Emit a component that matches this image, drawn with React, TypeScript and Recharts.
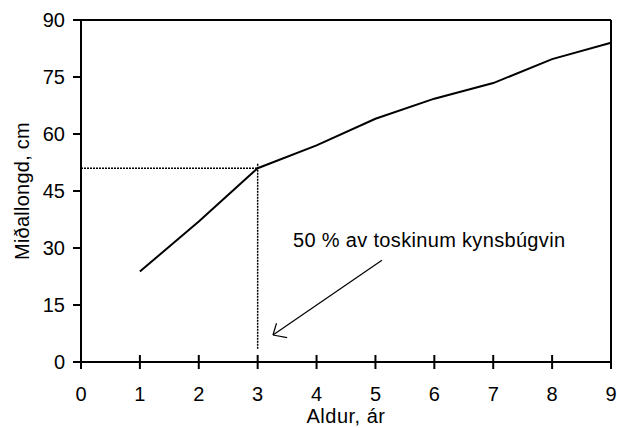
import React from "react";
import {
  LineChart,
  Line,
  XAxis,
  YAxis,
  ReferenceLine,
  ReferenceDot,
  Label,
} from "recharts";

const ages = [1, 2, 3, 4, 5, 6, 7, 8, 9];
const lengths = [23.8, 37, 51, 57, 64, 69.3, 73.4, 79.7, 84];
const xTicks = [0, 1, 2, 3, 4, 5, 6, 7, 8, 9];
const yTicks = [0, 15, 30, 45, 60, 75, 90];

const maturityAge = 3;
const maturityLength = 51;
const verticalTop = 52.2;
const verticalBottom = 3.2;

const arrowStart = { x: 5.11, y: 26.8 };
const arrowTip = { x: 3.26, y: 7.1 };
const arrowArm1 = { x: 3.32, y: 10.2 };
const arrowArm2 = { x: 3.5, y: 6.4 };

const annotationPos = { x: 3.6, y: 32.1 };
const annotationText = "50 % av toskinum kynsbúgvin";
const xLabel = "Aldur, ár";
const yLabel = "Miðallongd, cm";

const data = ages.map((a, i) => ({ age: a, len: lengths[i] }));

const FONT = "'Liberation Sans', Arial, sans-serif";

const XTick = (props: any) => {
  const { x, y, payload } = props;
  return (
    <g>
      <line x1={x} x2={x} y1={y - 7} y2={y + 7} stroke="#000" strokeWidth={2} />
      <text
        x={x}
        y={y + 39}
        textAnchor="middle"
        fill="#000"
        fontSize={20}
        fontFamily={FONT}
      >
        {payload.value}
      </text>
    </g>
  );
};

export default function App() {
  return (
    <div style={{ position: "absolute", left: 0, top: 0, background: "#fff" }}>
      <LineChart
        width={617}
        height={428}
        data={data}
        margin={{ top: 20, right: 6, left: 0, bottom: 0 }}
      >
        <XAxis
          dataKey="age"
          type="number"
          domain={[0, 9]}
          ticks={xTicks}
          tickSize={0}
          tickMargin={0}
          tickLine={false}
          height={66}
          axisLine={{ stroke: "#000", strokeWidth: 2 }}
          tick={<XTick />}
          interval={0}
        >
          <Label
            content={(p: any) => {
              const vb = p.viewBox;
              return (
                <text
                  x={vb.x + vb.width / 2}
                  y={423}
                  textAnchor="middle"
                  fill="#000"
                  fontSize={20}
                  letterSpacing={0.5}
                  fontFamily={FONT}
                >
                  {xLabel}
                </text>
              );
            }}
          />
        </XAxis>
        <YAxis
          type="number"
          domain={[0, 90]}
          ticks={yTicks}
          width={81}
          tickSize={8}
          tickMargin={8}
          interval={0}
          axisLine={{ stroke: "#000", strokeWidth: 2 }}
          tickLine={{ stroke: "#000", strokeWidth: 2 }}
          tick={{ fill: "#000", fontSize: 20, fontFamily: FONT }}
        >
          <Label
            content={(p: any) => {
              const vb = p.viewBox;
              const cy = vb.y + vb.height / 2;
              return (
                <text
                  x={22}
                  y={cy}
                  transform={`rotate(-90, 22, ${cy})`}
                  textAnchor="middle"
                  dominantBaseline="central"
                  fill="#000"
                  fontSize={20}
                  letterSpacing={0.25}
                  fontFamily={FONT}
                >
                  {yLabel}
                </text>
              );
            }}
          />
        </YAxis>
        <ReferenceLine y={90} stroke="#000" strokeWidth={2} />
        <ReferenceLine x={9} stroke="#000" strokeWidth={2} />
        <ReferenceLine
          segment={[
            { x: 0, y: maturityLength },
            { x: maturityAge, y: maturityLength },
          ]}
          stroke="#000"
          strokeWidth={1.5}
          strokeDasharray="2 1"
        />
        <ReferenceLine
          segment={[
            { x: maturityAge, y: verticalTop },
            { x: maturityAge, y: verticalBottom },
          ]}
          stroke="#000"
          strokeWidth={1.5}
          strokeDasharray="2 1"
        />
        <ReferenceLine segment={[arrowStart, arrowTip]} stroke="#000" strokeWidth={1.2} />
        <ReferenceLine segment={[arrowTip, arrowArm1]} stroke="#000" strokeWidth={1.2} />
        <ReferenceLine segment={[arrowTip, arrowArm2]} stroke="#000" strokeWidth={1.2} />
        <ReferenceDot
          x={annotationPos.x}
          y={annotationPos.y}
          r={0}
          stroke="none"
          fill="none"
        >
          <Label
            position="right"
            offset={0}
            value={annotationText}
            fill="#000"
            fontSize={20}
            letterSpacing={0.33}
            fontFamily={FONT}
          />
        </ReferenceDot>
        <Line
          type="linear"
          dataKey="len"
          stroke="#000"
          strokeWidth={2}
          dot={false}
          isAnimationActive={false}
        />
      </LineChart>
    </div>
  );
}
